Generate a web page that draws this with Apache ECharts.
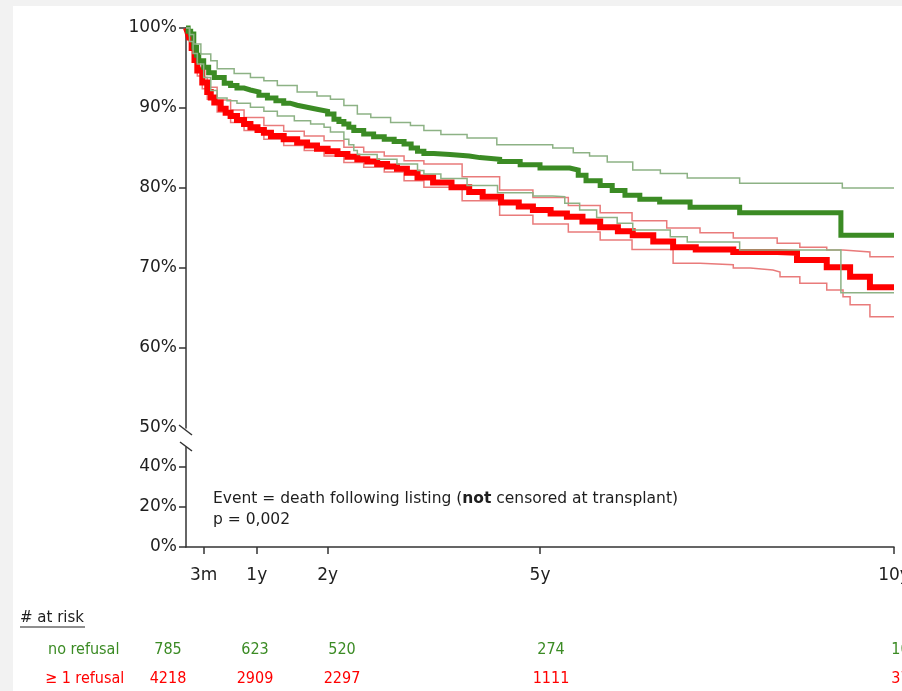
<!DOCTYPE html>
<html>
<head>
<meta charset="utf-8">
<script src="https://cdn.jsdelivr.net/npm/echarts@6/dist/echarts.min.js"></script>
<style>
html,body{margin:0;padding:0;background:#f2f2f2;}
#chart{width:902px;height:691px;}
</style>
</head>
<body>
<div id="chart"></div>
<script>
// ---- data (time in years, survival in %) ----
var xTickValues = [0.25, 1, 2, 5, 10];
var xTickLabels = ['3m', '1y', '2y', '5y', '10y'];
var yTopTicks = [50, 60, 70, 80, 90, 100];
var yBottomTicks = [0, 20, 40];

var noRefusal = [[0,100],[0.03,99.6],[0.066,99.25],[0.11,97.6],[0.15,96.6],[0.18,95.9],[0.25,95.1],[0.32,94.4],[0.40,93.8],[0.54,93.1],[0.63,92.8],[0.72,92.5],[0.82,92.25],[0.91,92.0],[1.03,91.6],[1.15,91.25],[1.27,90.9],[1.38,90.6],[1.47,90.35],[1.57,90.1],[1.71,89.85],[1.85,89.6],[2.0,89.25],[2.09,88.6],[2.16,88.3],[2.23,88.0],[2.30,87.6],[2.37,87.2],[2.51,86.75],[2.65,86.4],[2.80,86.1],[2.94,85.8],[3.08,85.5],[3.18,85.0],[3.27,84.6],[3.36,84.3],[3.5,84.2],[3.73,84.0],[4.0,83.8],[4.15,83.6],[4.43,83.3],[4.72,82.9],[5.0,82.5],[5.42,82.25],[5.54,81.6],[5.65,80.9],[5.85,80.3],[6.02,79.7],[6.2,79.1],[6.41,78.6],[6.69,78.25],[7.12,77.6],[7.82,76.9],[9.25,74.1],[10,74.1]];
var noRefusalUpper = [[0,100],[0.05,99.2],[0.11,98.0],[0.21,96.75],[0.35,95.9],[0.44,94.9],[0.68,94.3],[0.91,93.8],[1.10,93.4],[1.29,92.8],[1.57,92.0],[1.85,91.5],[2.04,91.1],[2.23,90.3],[2.42,89.25],[2.61,88.8],[2.89,88.2],[3.17,87.8],[3.36,87.2],[3.6,86.7],[3.97,86.25],[4.39,85.4],[5.18,85.0],[5.47,84.4],[5.7,84.0],[5.95,83.25],[6.31,82.25],[6.7,81.8],[7.08,81.25],[7.82,80.6],[9.27,80.0],[10,80.0]];
var noRefusalLower = [[0,100],[0.05,98.3],[0.1,96.8],[0.16,95.5],[0.25,93.8],[0.35,92.2],[0.44,91.25],[0.58,90.9],[0.72,90.6],[0.91,90.1],[1.10,89.6],[1.29,89.0],[1.53,88.4],[1.76,88.0],[1.95,87.6],[2.04,87.0],[2.23,86.1],[2.30,85.4],[2.37,84.7],[2.42,84.2],[2.70,83.6],[2.98,83.0],[3.27,82.2],[3.36,81.75],[3.6,81.2],[3.97,80.3],[4.4,79.4],[4.9,79.0],[5.18,78.9],[5.35,78.1],[5.56,77.25],[5.8,76.3],[6.09,75.6],[6.31,74.75],[6.84,73.9],[7.08,73.25],[7.82,72.25],[9.25,66.9],[10,66.9]];

var refusal = [[0,100],[0.02,99.5],[0.04,98.8],[0.08,97.5],[0.12,96.0],[0.16,94.7],[0.23,93.2],[0.30,92.0],[0.35,91.3],[0.40,90.7],[0.49,89.9],[0.56,89.4],[0.63,89.0],[0.72,88.5],[0.82,88.0],[0.91,87.6],[1.01,87.25],[1.10,86.9],[1.20,86.5],[1.38,86.1],[1.57,85.7],[1.71,85.3],[1.85,84.9],[2.0,84.6],[2.14,84.25],[2.28,83.9],[2.42,83.6],[2.56,83.3],[2.70,83.0],[2.84,82.7],[2.98,82.4],[3.12,81.9],[3.27,81.3],[3.49,80.7],[3.75,80.1],[4.0,79.5],[4.19,78.9],[4.45,78.2],[4.7,77.7],[4.9,77.25],[5.15,76.8],[5.38,76.4],[5.6,75.8],[5.85,75.1],[6.1,74.6],[6.31,74.1],[6.6,73.3],[6.88,72.6],[7.2,72.3],[7.73,72.0],[8.35,71.9],[8.63,71.0],[9.05,70.1],[9.38,68.9],[9.66,67.6],[10,67.6]];
var refusalUpper = [[0,100],[0.04,99.0],[0.1,97.2],[0.16,95.1],[0.23,93.8],[0.30,92.6],[0.44,91.0],[0.63,89.75],[0.82,88.8],[1.10,87.8],[1.38,87.1],[1.67,86.5],[1.95,85.9],[2.23,85.1],[2.51,84.5],[2.80,84.0],[3.08,83.4],[3.36,83.0],[3.9,81.4],[4.43,79.75],[4.9,78.8],[5.4,77.8],[5.85,76.9],[6.3,75.9],[6.79,75.0],[7.26,74.4],[7.73,73.75],[8.35,73.1],[8.67,72.6],[9.05,72.25],[9.28,72.0],[9.66,71.4],[10,71.4]];
var refusalLower = [[0,100],[0.04,98.5],[0.1,96.3],[0.16,94.0],[0.23,92.4],[0.30,91.1],[0.44,89.5],[0.63,88.2],[0.82,87.2],[1.10,86.1],[1.38,85.3],[1.67,84.7],[1.95,84.0],[2.23,83.2],[2.51,82.6],[2.80,82.0],[3.08,80.9],[3.36,80.1],[3.9,78.4],[4.43,76.6],[4.9,75.5],[5.4,74.5],[5.85,73.5],[6.3,72.3],[6.88,70.6],[7.26,70.4],[7.73,70.0],[7.97,69.75],[8.29,69.5],[8.39,68.9],[8.67,68.1],[9.05,67.25],[9.28,66.4],[9.38,65.4],[9.66,63.9],[10,63.9]];

var atRiskGroups = ['no refusal', '\u2265 1 refusal'];
var atRiskNoRefusal = ['785', '623', '520', '274', '108'];
var atRiskRefusal = ['4218', '2909', '2297', '1111', '374'];
var atRiskColumnsX = [168, 255, 342, 551, 905];

// ---- styles ----
var GREEN = '#3b8b24', GREEN_CI = '#8db285', RED = '#ff0000', RED_CI = '#e97b7b';
var AX = '#333333', TXT = '#1e1e1e';
var FONT = "'DejaVu Sans', Arial, sans-serif";
var NARROW = "'Liberation Sans Narrow', 'DejaVu Sans Condensed', Arial, sans-serif";

var chart = echarts.init(document.getElementById('chart'), null, {renderer: 'canvas'});

function line(name, data, color, width, z) {
  return {
    name: name, type: 'line', step: 'end', data: data, showSymbol: false,
    xAxisIndex: 0, yAxisIndex: 0, clip: false, z: z,
    lineStyle: {color: color, width: width, join: 'miter'},
    emphasis: {disabled: true}, animation: false
  };
}

var graphics = [
  {type: 'rect', shape: {x: 13, y: 6, width: 889, height: 685}, style: {fill: '#ffffff'}, z: -100, silent: true},
  {type: 'text', style: {x: 213, y: 499, text: '{a|Event = death following listing (}{b|not}{a| censored at transplant)}',
     rich: {a: {font: "15.5px " + FONT, fill: TXT}, b: {font: "bold 15.5px " + FONT, fill: TXT}},
     textVerticalAlign: 'middle', verticalAlign: 'middle'}},
  {type: 'text', style: {x: 213, y: 520, text: 'p = 0,002', font: "15.5px " + FONT, fill: TXT, textVerticalAlign: 'middle', verticalAlign: 'middle'}},
  {type: 'text', style: {x: 20, y: 618, text: '# at risk', font: "15px " + FONT, fill: TXT, textVerticalAlign: 'middle', verticalAlign: 'middle'}},
  {type: 'line', shape: {x1: 20, y1: 627, x2: 85, y2: 627}, style: {stroke: TXT, lineWidth: 1}},
  {type: 'text', style: {x: 48, y: 650, text: atRiskGroups[0], font: "16px " + NARROW, fill: GREEN, textVerticalAlign: 'middle', verticalAlign: 'middle'}},
  {type: 'text', style: {x: 45, y: 679, text: atRiskGroups[1], font: "16px " + NARROW, fill: RED, textVerticalAlign: 'middle', verticalAlign: 'middle'}},
  // axis break marks
  {type: 'line', shape: {x1: 179, y1: 425, x2: 192, y2: 435}, style: {stroke: AX, lineWidth: 1.5}},
  {type: 'line', shape: {x1: 180, y1: 442, x2: 192, y2: 451}, style: {stroke: AX, lineWidth: 1.5}}
];
for (var i = 0; i < atRiskColumnsX.length; i++) {
  graphics.push({type: 'text', style: {x: atRiskColumnsX[i], y: 650, text: atRiskNoRefusal[i], font: "16px " + NARROW, fill: GREEN, textAlign: 'center', align: 'center', textVerticalAlign: 'middle', verticalAlign: 'middle'}});
  graphics.push({type: 'text', style: {x: atRiskColumnsX[i], y: 679, text: atRiskRefusal[i], font: "16px " + NARROW, fill: RED, textAlign: 'center', align: 'center', textVerticalAlign: 'middle', verticalAlign: 'middle'}});
}

var option = {
  backgroundColor: '#f2f2f2',
  animation: false,
  grid: [
    {left: 186, right: 8, top: 28, height: 400, containLabel: false, outerBoundsMode: 'none'},
    {left: 186, right: 8, top: 447, height: 100, containLabel: false, outerBoundsMode: 'none'}
  ],
  xAxis: [
    {gridIndex: 0, type: 'value', min: 0, max: 10, show: false},
    {gridIndex: 1, type: 'value', min: 0, max: 10,
     axisLine: {show: true, onZero: false, lineStyle: {color: AX, width: 1.5}},
     axisTick: {show: true, length: 7, customValues: xTickValues, lineStyle: {color: AX, width: 1.5}},
     axisLabel: {show: true, customValues: xTickValues, margin: 20, fontSize: 17, fontFamily: FONT, color: TXT,
       formatter: function (v) { var k = xTickValues.indexOf(v); return k >= 0 ? xTickLabels[k] : ''; }},
     splitLine: {show: false}}
  ],
  yAxis: [
    {gridIndex: 0, type: 'value', min: 50, max: 100,
     axisLine: {show: true, lineStyle: {color: AX, width: 1.5}},
     axisTick: {show: true, length: 7, customValues: yTopTicks.slice(1), lineStyle: {color: AX, width: 1.5}},
     axisLabel: {show: true, customValues: yTopTicks, margin: 9, fontSize: 17, fontFamily: FONT, color: TXT, formatter: '{value}%'},
     splitLine: {show: false}},
    {gridIndex: 1, type: 'value', min: 0, max: 50,
     axisLine: {show: true, lineStyle: {color: AX, width: 1.5}},
     axisTick: {show: true, length: 7, customValues: yBottomTicks, lineStyle: {color: AX, width: 1.5}},
     axisLabel: {show: true, customValues: yBottomTicks, margin: 9, fontSize: 17, fontFamily: FONT, color: TXT, formatter: '{value}%'},
     splitLine: {show: false}}
  ],
  series: [
    line('≥ 1 refusal upper', refusalUpper, RED_CI, 1.5, 2),
    line('≥ 1 refusal lower', refusalLower, RED_CI, 1.5, 2),
    line('≥ 1 refusal', refusal, RED, 6, 3),
    line('no refusal', noRefusal, GREEN, 5, 4),
    line('no refusal upper', noRefusalUpper, GREEN_CI, 1.5, 5),
    line('no refusal lower', noRefusalLower, GREEN_CI, 1.5, 5)
  ],
  graphic: graphics
};
chart.setOption(option);
</script>
</body>
</html>
